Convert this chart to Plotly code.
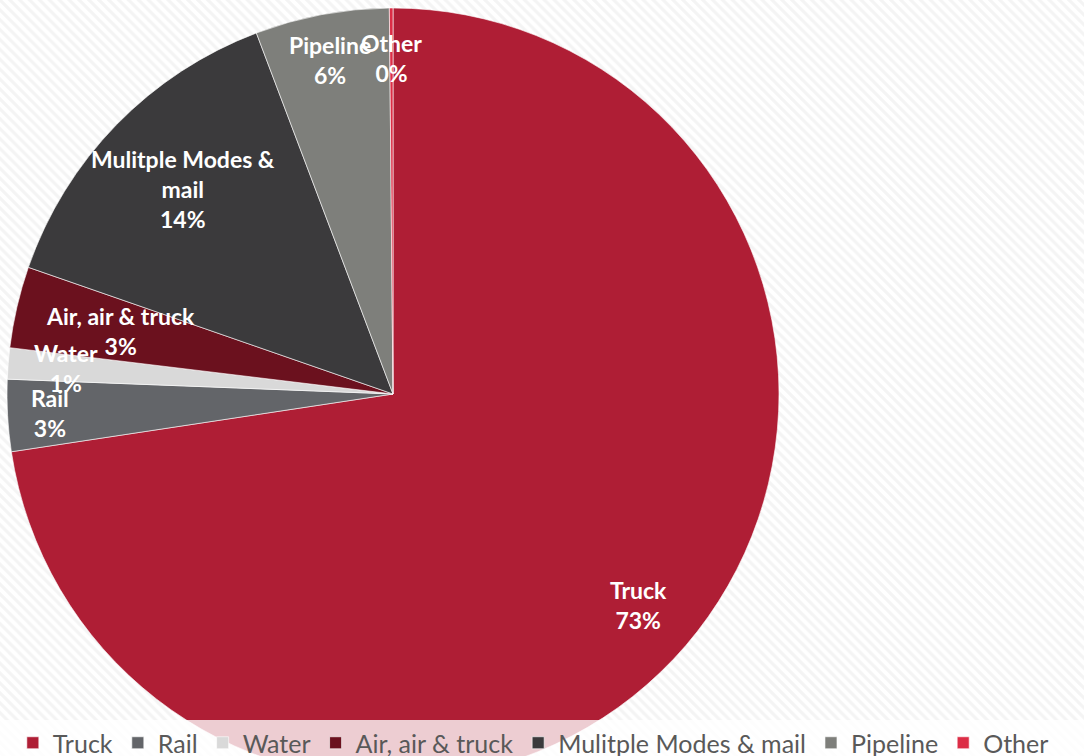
import math
import plotly.graph_objects as go

# ---- data ----
modes = ["Truck", "Rail", "Water", "Air, air & truck", "Mulitple Modes & mail", "Pipeline", "Other"]
shares = [72.5, 3.0, 1.3, 3.4, 13.9, 5.6, 0.15]
label_text = ["Truck", "Rail", "Water", "Air, air & truck", "Mulitple Modes &<br>mail", "Pipeline", "Other"]
colors = ["#AF1E35", "#636569", "#D9D9D9", "#6B111E", "#3B3A3C", "#7E7F7B", "#DC2D46"]
# radial position (fraction of radius) of each data label
label_rf = [0.84, 0.89, 0.85, 0.725, 0.76, 0.88, 0.87]

W, H = 1084, 780
CX, CY, R = 393, 394, 386

fig = go.Figure()

# hatched background
fig.add_trace(go.Scatter(
    x=[0, 1, 1, 0, 0], y=[0, 0, 1, 1, 0], mode="lines", fill="toself",
    line=dict(width=0), fillcolor="white",
    fillpattern=dict(shape="\\", fgcolor="#e9e9e9", bgcolor="#ffffff", size=7, solidity=0.45),
    showlegend=False, hoverinfo="skip",
))

fig.add_trace(go.Pie(
    labels=modes, values=shares, sort=False, direction="clockwise", rotation=0,
    marker=dict(colors=colors, line=dict(color="rgba(255,255,255,0.6)", width=1)),
    textinfo="none", hoverinfo="label+percent",
    domain=dict(x=[(CX - R) / W, (CX + R) / W], y=[1 - (CY + R) / H, 1 - (CY - R) / H]),
))

total = sum(shares)
cum = 0.0
for lab, v, rf in zip(label_text, shares, label_rf):
    mid = (cum + v / 2) / total * 2 * math.pi
    cum += v
    px = CX + rf * R * math.sin(mid)
    py = CY - rf * R * math.cos(mid)
    pct = round(v / total * 100)
    fig.add_annotation(
        x=px / W, y=1 - py / H, xref="paper", yref="paper",
        text=f"<b>{lab}<br>{pct}%</b>", showarrow=False,
        font=dict(family="Lato", size=23, color="white"),
        align="center", xanchor="center", yanchor="middle",
    )

# translucent legend band
fig.add_shape(type="rect", xref="paper", yref="paper", x0=0, x1=1,
              y0=0, y1=1 - 720 / H, fillcolor="rgba(255,255,255,0.78)",
              line=dict(width=0), layer="above")

fig.update_layout(
    width=W, height=H,
    margin=dict(l=0, r=0, t=0, b=0),
    paper_bgcolor="white", plot_bgcolor="white",
    xaxis=dict(visible=False, range=[0, 1], domain=[0, 1]),
    yaxis=dict(visible=False, range=[0, 1], domain=[0, 1]),
    showlegend=True,
    legend=dict(orientation="h", x=0.492, xanchor="center", y=1 - 743 / H, yanchor="middle",
                font=dict(family="Lato", size=25, color="#595959"),
                bgcolor="rgba(0,0,0,0)", itemclick=False),
)

fig.write_html("out.html", post_script="document.body.style.overflow='hidden';document.documentElement.style.overflow='hidden';document.body.style.margin='0';")
